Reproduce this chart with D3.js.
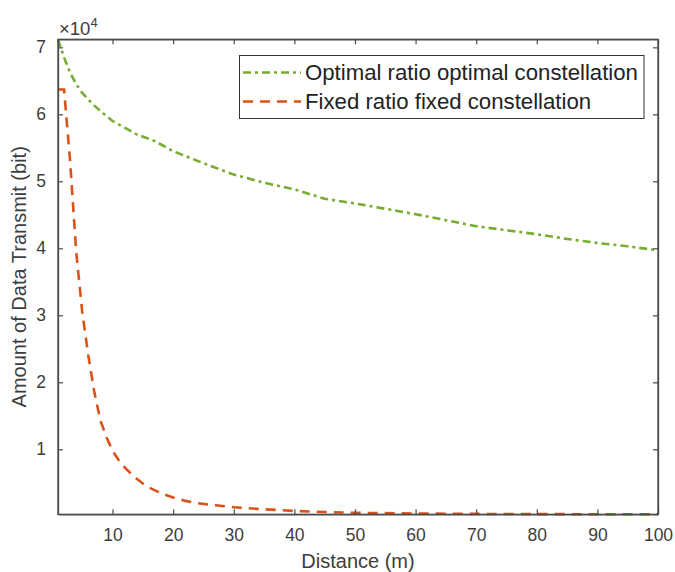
<!DOCTYPE html>
<html><head><meta charset="utf-8">
<script src="https://cdn.jsdelivr.net/npm/d3@7"></script>
<style>body{margin:0;background:#fff}svg{display:block}text{font-family:"Liberation Sans",Arial,sans-serif}</style>
</head><body>
<script>
const xTicks = [10,20,30,40,50,60,70,80,90,100];
const yTicks = [10000,20000,30000,40000,50000,60000,70000];
const optD = [1,2,3,4,5,6,7,8,10,12,14,17,20,25,30,35,40,45,50,55,60,65,70,75,80,85,90,95,100];
const optV = [71200,68500,66200,64500,63200,62200,61300,60500,59000,58000,57000,56000,54500,52700,51000,49800,48800,47400,46700,45900,45100,44200,43300,42700,42100,41400,40800,40300,39700];
const fixD = [1,2,3,4,5,6,7,8,9,10,11,12,13,14,15,16,18,20,22,24,27,30,35,40,45,50,60,70,80,90,100];
const fixV = [63700,63700,53000,39500,30500,24000,18500,14300,11800,9800,8400,7300,6400,5600,4900,4300,3450,2800,2300,1950,1650,1350,1050,800,650,520,420,360,330,310,300];
const seriesNames = ["Optimal ratio optimal constellation","Fixed ratio fixed constellation"];

const W=675,H=572;
const L=58,R=658,T=39.3,B=514.3;
const svg=d3.select("body").append("svg").attr("width",W).attr("height",H);
const x=d3.scaleLinear().domain([1,100]).range([L,R]);
const y=d3.scaleLinear().domain([300,71200]).range([B,T]);
const axisCol="#4a4a4a", txtCol="#3d3d3d";

// lines
const line=d3.line().x(d=>x(d[0])).y(d=>y(d[1]));
const g=svg.append("g");
g.append("path").datum(optD.map((d,i)=>[d,optV[i]])).attr("d",line)
 .attr("fill","none").attr("stroke","#77AC30").attr("stroke-width",2.6).attr("stroke-dasharray","8,4,3,4");
g.append("path").datum(fixD.map((d,i)=>[d,fixV[i]])).attr("d",line)
 .attr("fill","none").attr("stroke","#D95319").attr("stroke-width",2.6).attr("stroke-dasharray","10,7");

// axes
const fmtY=d=>d/10000;
const xb=svg.append("g").attr("transform",`translate(0,${B})`).call(d3.axisBottom(x).tickValues(xTicks).tickSizeInner(-5).tickSizeOuter(0).tickPadding(14));
const xt=svg.append("g").attr("transform",`translate(0,${T})`).call(d3.axisTop(x).tickValues(xTicks).tickSizeInner(-5).tickSizeOuter(0).tickFormat(""));
const yl=svg.append("g").attr("transform",`translate(${L},0)`).call(d3.axisLeft(y).tickValues(yTicks).tickSizeInner(-5).tickSizeOuter(0).tickFormat(fmtY).tickPadding(12));
const yr=svg.append("g").attr("transform",`translate(${R},0)`).call(d3.axisRight(y).tickValues(yTicks).tickSizeInner(-5).tickSizeOuter(0).tickFormat(""));
[xb,xt,yl,yr].forEach(a=>{
  a.select(".domain").attr("stroke",axisCol).attr("stroke-width",1.3);
  a.selectAll(".tick line").attr("stroke",axisCol).attr("stroke-width",1.2);
  a.selectAll("text").attr("fill",txtCol).attr("font-size",17.5).attr("font-family",'"Liberation Sans",Arial,sans-serif');
});
svg.append("rect").attr("x",L).attr("y",T).attr("width",R-L).attr("height",B-T).attr("fill","none").attr("stroke",axisCol).attr("stroke-width",1.3);

// exponent
const ex=svg.append("text").attr("x",59).attr("y",35).attr("fill",txtCol).attr("font-size",18.5);
ex.append("tspan").text("×10");
ex.append("tspan").attr("font-size",13).attr("dy",-8).text("4");

// labels
svg.append("text").attr("x",(L+R)/2).attr("y",568).attr("text-anchor","middle").attr("fill",txtCol).attr("font-size",20).text("Distance (m)");
svg.append("text").attr("transform",`translate(26,${(T+B)/2}) rotate(-90)`).attr("text-anchor","middle").attr("fill",txtCol).attr("font-size",20).text("Amount of Data Transmit (bit)");

// legend
const lg=svg.append("g");
lg.append("rect").attr("x",239.5).attr("y",55.5).attr("width",404.5).attr("height",63).attr("fill","#fff").attr("stroke","#333").attr("stroke-width",1);
const items=[{c:"#77AC30",da:"8,4,3,4",yy:72.5},{c:"#D95319",da:"10,7",yy:101.5}];
items.forEach((it,i)=>{
  lg.append("line").attr("x1",243).attr("x2",301).attr("y1",it.yy).attr("y2",it.yy).attr("stroke",it.c).attr("stroke-width",2.6).attr("stroke-dasharray",it.da);
  lg.append("text").attr("x",305).attr("y",it.yy+7.5).attr("fill","#222").attr("font-size",22.2).text(seriesNames[i]);
});
</script>
</body></html>
